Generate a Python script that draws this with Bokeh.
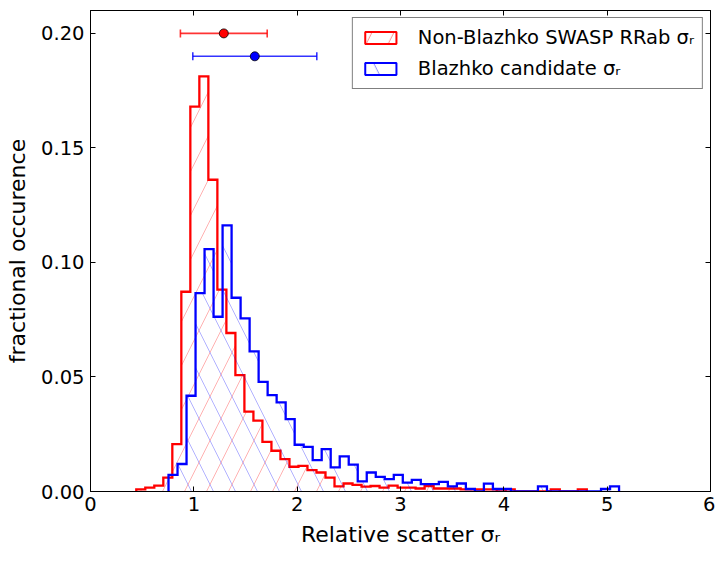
import numpy as np
from bokeh.plotting import figure
from bokeh.models import (ColumnDataSource, FixedTicker, PrintfTickFormatter, LinearAxis,
                          Range1d, Legend, LegendItem, Whisker, TeeHead, CustomLabelingPolicy)
from bokeh.embed import file_html
from bokeh.resources import INLINE

# ---------------- data ----------------
red_start = 0.443      # left edge of first non-Blazhko bin
blue_start = 0.755     # left edge of first Blazhko bin
bin_width = 0.0872
red_frac = [0.0009, 0.0017, 0.0026, 0.0061, 0.0207, 0.0872, 0.1680, 0.1812, 0.1361, 0.0881,
            0.0692, 0.0508, 0.0349, 0.0309, 0.0217, 0.0178, 0.0141, 0.0108, 0.0112, 0.0093,
            0.0083, 0.0061, 0.0022, 0.0035, 0.0029, 0.0021, 0.0024, 0.0017, 0.0026, 0.0017,
            0.0017, 0.0013, 0.0024, 0.0013, 0.0013, 0.0013, 0.0009, 0.0009, 0.0009, 0.0009,
            0.0000, 0.0009, 0.0000, 0.0000, 0.0000, 0.0000, 0.0009, 0.0000, 0.0000, 0.0009]
blue_frac = [0.0073, 0.0120, 0.0418, 0.0866, 0.1058, 0.0763, 0.1162, 0.0846, 0.0756, 0.0612,
             0.0479, 0.0421, 0.0389, 0.0316, 0.0204, 0.0195, 0.0137, 0.0185, 0.0105, 0.0153,
             0.0117, 0.0044, 0.0083, 0.0064, 0.0054, 0.0073, 0.0039, 0.0051, 0.0032, 0.0032,
             0.0042, 0.0022, 0.0035, 0.0011, 0.0000, 0.0034, 0.0011, 0.0011, 0.0000, 0.0000,
             0.0000, 0.0022, 0.0000, 0.0000, 0.0000, 0.0000, 0.0000, 0.0000, 0.0011, 0.0022]
x_ticks = [0, 1, 2, 3, 4, 5, 6]
y_ticks = [0.00, 0.05, 0.10, 0.15, 0.20]
means = [1.29, 1.59]
errs = [0.42, 0.60]
levels = [0.20, 0.19]
labels = ["Non-Blazhko SWASP RRab \u03c3\u1d63", "Blazhko candidate \u03c3\u1d63"]
colors = ["red", "blue"]
hatches = ["/", "\\"]

FONT = "DejaVu Sans"
TICK_FS = "19.5px"
LABEL_FS = "22px"

p = figure(frame_width=620, frame_height=481, x_range=Range1d(0, 6), y_range=Range1d(0, 0.21),
           output_backend="svg", toolbar_location=None,
           min_border_left=90, min_border_right=2, min_border_top=10, min_border_bottom=52,
           background_fill_color="white", border_fill_color="white")
p.grid.visible = False
p.outline_line_color = "black"
p.outline_line_width = 1

hide_all = CustomLabelingPolicy(code="""
const all = [...indices];
for (const i of all) indices.unset(i);
return indices;
""")

def style_axis(ax, ticks, show_labels=True):
    ax.ticker = FixedTicker(ticks=ticks)
    ax.major_tick_in = 5
    ax.major_tick_out = 0
    ax.minor_tick_line_color = None
    ax.axis_line_color = "black"
    ax.major_tick_line_color = "black"
    ax.major_label_text_font = FONT
    ax.major_label_text_color = "black"
    if show_labels:
        ax.major_label_text_font_size = TICK_FS
    else:
        ax.major_label_text_font_size = "1px"
        ax.major_label_standoff = 0
        ax.major_label_policy = hide_all

style_axis(p.xaxis[0], x_ticks)
style_axis(p.yaxis[0], y_ticks)
p.yaxis[0].formatter = PrintfTickFormatter(format="%.2f")
p.xaxis[0].major_label_standoff = 5
p.yaxis[0].major_label_standoff = 6
for ax, lab in [(p.xaxis[0], "Relative scatter \u03c3\u1d63"), (p.yaxis[0], "fractional occurence")]:
    ax.axis_label = lab
    ax.axis_label_text_font = FONT
    ax.axis_label_text_font_size = LABEL_FS
    ax.axis_label_text_font_style = "normal"
    ax.axis_label_text_color = "black"
    ax.axis_label_standoff = 8

top_ax = LinearAxis()
style_axis(top_ax, x_ticks, show_labels=False)
p.add_layout(top_ax, "above")
right_ax = LinearAxis()
style_axis(right_ax, y_ticks, show_labels=False)
p.add_layout(right_ax, "right")

nan = float("nan")
legend_items = []
for start, frac, col, hat, lab in [(red_start, red_frac, colors[0], hatches[0], labels[0]),
                                    (blue_start, blue_frac, colors[1], hatches[1], labels[1])]:
    h = np.array(frac)
    edges = start + bin_width * np.arange(len(h) + 1)
    src = ColumnDataSource(dict(left=edges[:-1], right=edges[1:], top=h, bottom=np.zeros_like(h)))
    p.quad(left="left", right="right", top="top", bottom="bottom", source=src,
           fill_color=None, line_color=None, hatch_pattern=hat, hatch_color=col,
           hatch_alpha=0.3, hatch_scale=44, hatch_weight=1)
    xs = np.repeat(edges, 2)
    ys = np.concatenate([[0.0], np.repeat(h, 2), [0.0]])
    p.line(xs, ys, line_color=col, line_width=2.3, line_join="miter")
    leg = p.quad(left=[nan], right=[nan], top=[nan], bottom=[nan], fill_color=None,
                 line_color=col, line_width=2, hatch_pattern=hat, hatch_color=col,
                 hatch_alpha=0.45, hatch_scale=44, hatch_weight=1)
    legend_items.append(LegendItem(label=lab, renderers=[leg]))

for m, e, lv, col in zip(means, errs, levels, colors):
    esrc = ColumnDataSource(dict(y=[lv], lower=[m - e], upper=[m + e]))
    w = Whisker(source=esrc, base="y", lower="lower", upper="upper", dimension="width",
                line_color=col, line_width=1.6, line_alpha=0.8, level="underlay",
                upper_head=TeeHead(size=8, line_color=col, line_width=1.6, line_alpha=0.8),
                lower_head=TeeHead(size=8, line_color=col, line_width=1.6, line_alpha=0.8))
    p.add_layout(w)
    p.scatter(x=[m], y=[lv], size=9, fill_color=col, line_color="black", line_width=0.8)

legend = Legend(items=legend_items, location="top_right", margin=7, padding=8, spacing=8,
                glyph_width=39, glyph_height=15, label_standoff=18,
                label_text_font=FONT, label_text_font_size=TICK_FS, label_text_color="black",
                border_line_color="black", border_line_width=1.2,
                background_fill_color="white", background_fill_alpha=1)
p.add_layout(legend)

open("out.html", "w").write(file_html(p, INLINE))
